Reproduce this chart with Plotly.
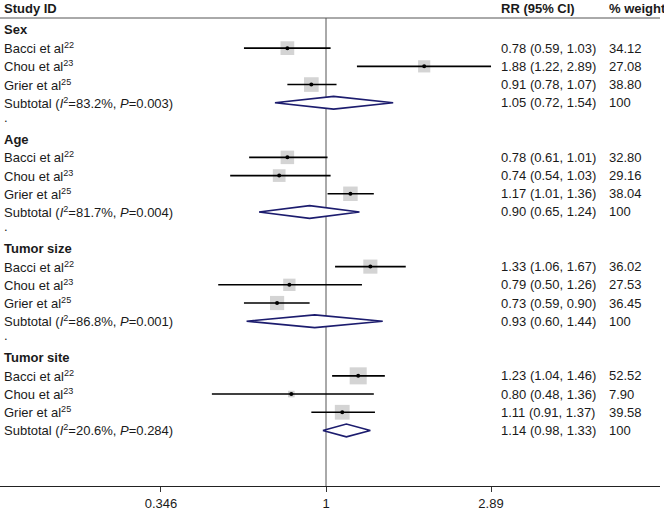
import math
import plotly.graph_objects as go

# ---------------- data ----------------
groups = ["Sex", "Age", "Tumor size", "Tumor site"]
studies = ["Bacci et al<sup>22</sup>", "Chou et al<sup>23</sup>", "Grier et al<sup>25</sup>"]
rr = [[0.78, 1.88, 0.91], [0.78, 0.74, 1.17], [1.33, 0.79, 0.73], [1.23, 0.80, 1.11]]
lo = [[0.59, 1.22, 0.78], [0.61, 0.54, 1.01], [1.06, 0.50, 0.59], [1.04, 0.48, 0.91]]
hi = [[1.03, 2.89, 1.07], [1.01, 1.03, 1.36], [1.67, 1.26, 0.90], [1.46, 1.36, 1.37]]
weights = [["34.12", "27.08", "38.80"], ["32.80", "29.16", "38.04"],
           ["36.02", "27.53", "36.45"], ["52.52", "7.90", "39.58"]]
sub_rr = [1.05, 0.90, 0.93, 1.14]
sub_lo = [0.72, 0.65, 0.60, 0.98]
sub_hi = [1.54, 1.24, 1.44, 1.33]
i2 = ["83.2", "81.7", "86.8", "20.6"]
pvals = ["0.003", "0.004", "0.001", "0.284"]
headers = ["Study ID", "RR (95% CI)", "% weight"]
tick_vals = [0.346, 1, 2.89]
tick_text = ["0.346", "1", "2.89"]

FONT = "Liberation Sans, Arial, sans-serif"
TXT = "#1a1a1a"
fig = go.Figure()

ci_x, ci_y, pt_x, pt_y, sq_size = [], [], [], [], []
annotations = []

def label(text, row, xpaper, bold=False, yref="y"):
    annotations.append(dict(
        x=xpaper, xref="paper", y=row, yref=yref, text=("<b>%s</b>" % text) if bold else text,
        showarrow=False, xanchor="left", yanchor="middle",
        font=dict(family=FONT, size=13, color=TXT)))

X_LEFT = 2 / 660
X_RR = 499 / 660
X_W = 607 / 660

for g, name in enumerate(groups):
    base = 6 * g
    label(name, base, X_LEFT, bold=True)
    for s, st in enumerate(studies):
        row = base + 1 + s
        ci_x += [lo[g][s], hi[g][s], None]
        ci_y += [row, row, None]
        pt_x.append(rr[g][s])
        pt_y.append(row)
        sq_size.append(2.35 * math.sqrt(float(weights[g][s])))
        label(st, row, X_LEFT)
        label("%.2f (%.2f, %.2f)" % (rr[g][s], lo[g][s], hi[g][s]), row, X_RR)
        label(weights[g][s], row, X_W)
    srow = base + 4
    label("Subtotal (<i>I</i><sup>2</sup>=%s%%, <i>P</i>=%s)" % (i2[g], pvals[g]), srow, X_LEFT)
    label("%.2f (%.2f, %.2f)" % (sub_rr[g], sub_lo[g], sub_hi[g]), srow, X_RR)
    label("100", srow, X_W)
    if g < len(groups) - 1:
        label(".", base + 5 - 0.2, X_LEFT)
    h = 0.35
    fig.add_trace(go.Scatter(
        x=[sub_lo[g], sub_rr[g], sub_hi[g], sub_rr[g], sub_lo[g]],
        y=[srow, srow - h, srow, srow + h, srow],
        mode="lines", fill="toself", fillcolor="white",
        line=dict(color="#1c1c6e", width=1.6), hoverinfo="skip"))

# header (above the plot area)
HEADER_Y = (489 - 8) / 471
for htxt, hx in zip(headers, [X_LEFT, X_RR, X_W]):
    label(htxt, HEADER_Y, hx, bold=True, yref="paper")

fig.add_trace(go.Scatter(x=pt_x, y=pt_y, mode="markers",
                         marker=dict(symbol="square", size=sq_size, color="#c2c2c2", line=dict(width=0))))
fig.add_trace(go.Scatter(x=ci_x, y=ci_y, mode="lines", line=dict(color="black", width=1.6)))
fig.add_trace(go.Scatter(x=pt_x, y=pt_y, mode="markers",
                         marker=dict(symbol="circle", size=4, color="black")))

fig.add_shape(type="line", xref="x", yref="paper", x0=1, x1=1, y0=0, y1=1,
              line=dict(color="#555555", width=1), layer="below")
fig.add_shape(type="line", xref="paper", yref="paper", x0=0, x1=1, y0=1, y1=1,
              line=dict(color="#555555", width=1))

fig.update_layout(
    width=664, height=511,
    margin=dict(l=0, r=4, t=18, b=22),
    paper_bgcolor="white", plot_bgcolor="white",
    showlegend=False,
    annotations=annotations,
    font=dict(family=FONT, size=13, color=TXT),
    xaxis=dict(type="log", range=[-0.9105, 0.9328], tickvals=tick_vals, ticktext=tick_text,
               ticks="outside", ticklen=5, tickcolor="#333333", showline=True,
               linecolor="#222222", linewidth=1, showgrid=False, zeroline=False,
               tickfont=dict(family=FONT, size=13, color=TXT)),
    yaxis=dict(range=[25.05, -0.655], visible=False, showgrid=False, zeroline=False),
)

fig.write_html("out.html", config={"displayModeBar": False},
               post_script="document.body.style.margin='0';document.body.style.padding='0';")
